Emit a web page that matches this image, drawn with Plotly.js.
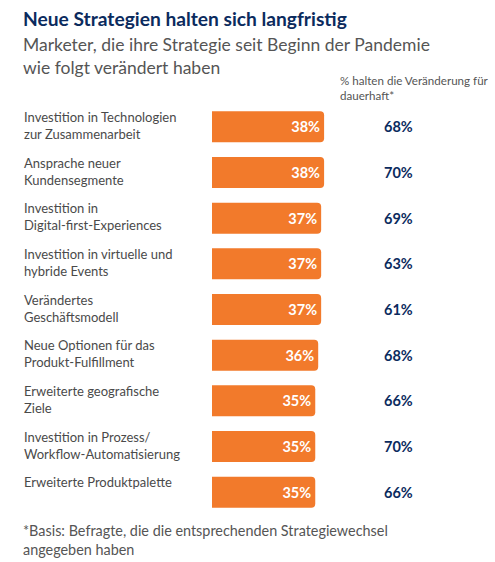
<!DOCTYPE html>
<html>
<head>
<meta charset="utf-8">
<script src="https://cdn.plot.ly/plotly-3.0.1.min.js"></script>
<style>html,body{margin:0;padding:0;background:#fff}#chart{width:495px;height:562px}</style>
</head>
<body>
<div id="chart"></div>
<script>
// ---- data ----
const categories = [
  "Investition in Technologien<br>zur Zusammenarbeit",
  "Ansprache neuer<br>Kundensegmente",
  "Investition in<br>Digital-first-Experiences",
  "Investition in virtuelle und<br>hybride Events",
  "Verändertes<br>Geschäftsmodell",
  "Neue Optionen für das<br>Produkt-Fulfillment",
  "Erweiterte geografische<br>Ziele",
  "Investition in Prozess/<br>Workflow-Automatisierung",
  "Erweiterte Produktpalette"
];
const changedPct = [38, 38, 37, 37, 37, 36, 35, 35, 35];
const permanentPct = [68, 70, 69, 63, 61, 68, 66, 70, 66];

const titleText = "Neue Strategien halten sich langfristig";
const subtitleText = "Marketer, die ihre Strategie seit Beginn der Pandemie<br>wie folgt verändert haben";
const columnHeader = "% halten die Veränderung für<br>dauerhaft*";
const footnoteText = "*Basis: Befragte, die die entsprechenden Strategiewechsel<br>angegeben haben";

// ---- layout helpers ----
const W = 495, H = 562;
const M = {l: 212, r: 20, t: 104, b: 47};
const PW = W - M.l - M.r, PH = H - M.t - M.b;
const px = p => (p - M.l) / PW;
const py = p => (H - M.b - p) / PH;

const FONT = "Lato, 'Open Sans', sans-serif";
const NAVY = "#0b2b5e";
const GRAY = "#4a4a4a";
const ORANGE = "#f27a2b";

const trace = {
  type: "bar",
  orientation: "h",
  y: categories,
  x: changedPct,
  marker: {color: ORANGE, cornerradius: 4, line: {width: 0}},
  width: 0.68,
  text: changedPct.map(v => v + "%"),
  textposition: "inside",
  insidetextanchor: "end",
  textfont: {family: FONT, size: 14.5, color: "#ffffff", weight: 700},
  hoverinfo: "none",
  cliponaxis: false
};

const annotations = [];
categories.forEach((c, i) => {
  annotations.push({
    xref: "paper", yref: "y", x: px(22), y: c,
    xanchor: "left", yanchor: "top", align: "left", yshift: 20,
    text: c, showarrow: false,
    font: {family: FONT, size: 13, color: GRAY}
  });
  annotations.push({
    xref: "paper", yref: "y", x: px(398), y: c,
    xanchor: "center", yanchor: "middle",
    text: permanentPct[i] + "%", showarrow: false,
    font: {family: FONT, size: 14.5, color: NAVY, weight: 700}
  });
});
annotations.push({
  xref: "paper", yref: "paper", x: px(21), y: py(55.5),
  xanchor: "left", yanchor: "middle", align: "left",
  text: subtitleText, showarrow: false,
  font: {family: FONT, size: 17.5, color: "#555555"}
});
annotations.push({
  xref: "paper", yref: "paper", x: px(338), y: py(87.5),
  xanchor: "left", yanchor: "middle", align: "left",
  text: columnHeader, showarrow: false,
  font: {family: FONT, size: 11.6, color: "#555555"}
});
annotations.push({
  xref: "paper", yref: "paper", x: px(21), y: py(539.5),
  xanchor: "left", yanchor: "middle", align: "left",
  text: footnoteText, showarrow: false,
  font: {family: FONT, size: 14.4, color: "#555555"}
});

const layout = {
  width: W, height: H,
  margin: M,
  paper_bgcolor: "#ffffff",
  plot_bgcolor: "#ffffff",
  title: {
    text: "<b>" + titleText + "</b>",
    x: 23 / W, xanchor: "left", xref: "container",
    y: 1 - 19 / H, yanchor: "middle", yref: "container",
    font: {family: FONT, size: 19.2, color: NAVY}
  },
  xaxis: {
    domain: [0, 131.5 / PW], range: [0, 131.5 / 2.95],
    visible: false, fixedrange: true
  },
  yaxis: {
    type: "category", autorange: "reversed",
    showticklabels: false, showgrid: false, zeroline: false, showline: false,
    ticks: "", fixedrange: true
  },
  showlegend: false,
  annotations: annotations
};

Plotly.newPlot("chart", [trace], layout, {displayModeBar: false, staticPlot: true});
</script>
</body>
</html>
